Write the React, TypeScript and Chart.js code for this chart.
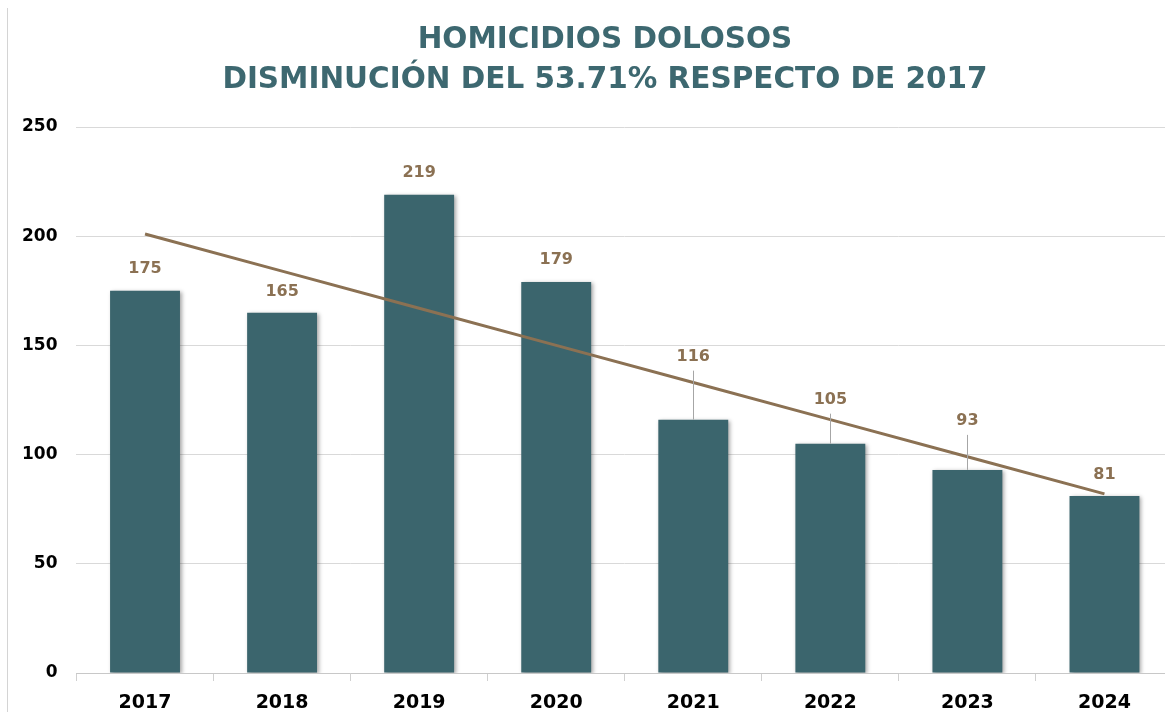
import React, { useEffect, useRef } from "react";
import { Chart, registerables } from "chart.js";

Chart.register(...registerables);

const years = ["2017", "2018", "2019", "2020", "2021", "2022", "2023", "2024"];
const homicidios = [175, 165, 219, 179, 116, 105, 93, 81];
const tendencia = [201, 184, 167, 150, 133, 116, 99, 82];
const yTicks = [0, 50, 100, 150, 200, 250];

const titleLine1 = "HOMICIDIOS DOLOSOS";
const titleLine2 = "DISMINUCIÓN DEL 53.71% RESPECTO DE 2017";

const BAR = "#3b656d";
const BROWN = "#8b7153";
const TITLE = "#3d6870";

// pixel lift of each value label above its bar top
const labelLift = [22, 21, 22, 22, 63, 44, 49, 21];

const barShadow = {
  id: "barShadow",
  beforeDatasetDraw(chart: any, args: any) {
    if (args.index !== 0) return;
    const ctx = chart.ctx;
    ctx.save();
    ctx.shadowColor = "rgba(0,0,0,0.35)";
    ctx.shadowBlur = 4;
    ctx.shadowOffsetX = 2;
    ctx.shadowOffsetY = 1;
  },
  afterDatasetDraw(chart: any, args: any) {
    if (args.index !== 0) return;
    chart.ctx.restore();
  },
};

const valueLabels = {
  id: "valueLabels",
  afterDatasetsDraw(chart: any) {
    const ctx = chart.ctx;
    const meta = chart.getDatasetMeta(0);
    ctx.save();
    ctx.font = "bold 16px 'DejaVu Sans'";
    ctx.textAlign = "center";
    ctx.textBaseline = "middle";
    meta.data.forEach((el: any, i: number) => {
      const lift = labelLift[i];
      const ly = el.y - lift;
      if (lift > 30) {
        ctx.strokeStyle = "#a6a6a6";
        ctx.lineWidth = 1;
        ctx.beginPath();
        ctx.moveTo(Math.round(el.x) + 0.5, ly + 14);
        ctx.lineTo(Math.round(el.x) + 0.5, el.y);
        ctx.stroke();
      }
      ctx.fillStyle = BROWN;
      ctx.fillText(String(homicidios[i]), el.x, ly);
    });
    ctx.restore();
  },
};

export default function App() {
  const ref = useRef<HTMLCanvasElement | null>(null);

  useEffect(() => {
    if (!ref.current) return;
    const chart = new Chart(ref.current, {
      type: "bar",
      data: {
        labels: years,
        datasets: [
          {
            type: "bar",
            data: homicidios,
            backgroundColor: BAR,
            barPercentage: 0.51,
            categoryPercentage: 1,
            order: 2,
          },
          {
            type: "line",
            data: tendencia,
            borderColor: BROWN,
            borderWidth: 3,
            pointRadius: 0,
            fill: false,
            tension: 0,
            order: 1,
          } as any,
        ],
      },
      options: {
        animation: false,
        responsive: false,
        maintainAspectRatio: false,
        layout: { padding: { top: 127, left: 3, right: 0, bottom: 0 } },
        plugins: {
          legend: { display: false },
          tooltip: { enabled: false },
          title: { display: false },
        },
        scales: {
          x: {
            grid: {
              display: true,
              drawOnChartArea: false,
              drawTicks: true,
              tickLength: 8,
              color: "#d0d0d0",
              offset: true,
            },
            border: { display: true, color: "#c8c8c8" },
            ticks: {
              color: "#000",
              padding: 12.5,
              font: { family: "'DejaVu Sans'", size: 19, weight: "bold", lineHeight: 1 },
            },
          },
          y: {
            min: 0,
            max: 250,
            afterBuildTicks(axis: any) {
              axis.ticks = yTicks.map((v) => ({ value: v }));
            },
            grid: { color: "#d9d9d9", drawTicks: false },
            border: { display: false },
            ticks: {
              color: "#000",
              padding: 19,
              font: { family: "'DejaVu Sans'", size: 17, weight: "bold" },
            },
          },
        },
      },
      plugins: [barShadow, valueLabels],
    });
    return () => chart.destroy();
  }, []);

  return (
    <div style={{ position: "absolute", left: 0, top: 0, width: 1165, height: 712, background: "#fff", overflow: "hidden" }}>
      <div style={{ position: "absolute", left: 7, top: 8, width: 1, height: 704, background: "#d4d4d4" }} />
      <div
        style={{
          position: "absolute",
          left: 45,
          top: 18,
          width: 1120,
          textAlign: "center",
          color: TITLE,
          fontFamily: "'DejaVu Sans', sans-serif",
          fontWeight: "bold",
          fontSize: 29.5,
          lineHeight: "40px",
          zIndex: 2,
        }}
      >
        <div>{titleLine1}</div>
        <div>{titleLine2}</div>
      </div>
      <canvas ref={ref} width={1173} height={725} style={{ position: "absolute", left: 0, top: 0 }} />
    </div>
  );
}
